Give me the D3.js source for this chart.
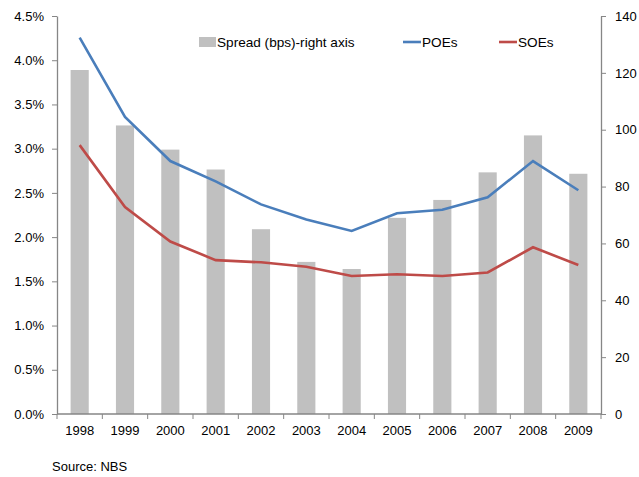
<!DOCTYPE html>
<html>
<head>
<meta charset="utf-8">
<script src="https://cdn.jsdelivr.net/npm/d3@7"></script>
<style>
  body { margin: 0; background: #fff; }
  svg { font-family: 'Liberation Sans', Arial, sans-serif; }
  .axis path, .axis line { stroke: #868686; }
  .axis text { fill: #000; font-size: 13px; font-family: 'Liberation Sans', Arial, sans-serif; }
</style>
</head>
<body>
<div class="chart"></div>
<script>
// DATA ------------------------------------
const years = ['1998', '1999', '2000', '2001', '2002', '2003', '2004', '2005', '2006', '2007', '2008', '2009'];
const spread = [121, 101.5, 93, 86, 65, 53.5, 51, 69, 75.3, 85, 98, 84.5];
const poes = [4.255, 3.36, 2.86, 2.63, 2.37, 2.2, 2.07, 2.27, 2.31, 2.45, 2.86, 2.53];
const soes = [3.04, 2.34, 1.95, 1.74, 1.715, 1.665, 1.56, 1.58, 1.56, 1.6, 1.885, 1.685];
const leftTicks = [0, 0.5, 1, 1.5, 2, 2.5, 3, 3.5, 4, 4.5];
const rightTicks = [0, 20, 40, 60, 80, 100, 120, 140];

// CHART INIT ------------------------------
const margin = { top: 16, right: 38, bottom: 63, left: 57 };
const width = 639 - margin.left - margin.right;
const height = 477 - margin.top - margin.bottom;

const svg = d3
  .select('.chart')
  .append('svg')
  .attr('width', width + margin.left + margin.right)
  .attr('height', height + margin.top + margin.bottom);

const group = svg
  .append('g')
  .attr('transform', 'translate(' + margin.left + ',' + margin.top + ')');

const xScale = d3.scaleBand().domain(years).range([0, width]);
const yLeft = d3.scaleLinear().domain([0, 4.5]).range([height, 0]);
const yRight = d3.scaleLinear().domain([0, 140]).range([height, 0]);

// bars (right axis)
group
  .selectAll('rect')
  .data(years)
  .enter()
  .append('rect')
  .attr('x', (d) => xScale(d) + xScale.bandwidth() * 0.3)
  .attr('y', (d, i) => yRight(spread[i]))
  .attr('width', xScale.bandwidth() * 0.4)
  .attr('height', (d, i) => height - yRight(spread[i]))
  .attr('fill', '#c0c0c0');

// lines (left axis)
const line = d3
  .line()
  .x((d, i) => xScale(years[i]) + xScale.bandwidth() / 2)
  .y((d) => yLeft(d));

group.append('path').datum(poes).attr('d', line)
  .attr('fill', 'none').attr('stroke', '#4a7ebb').attr('stroke-width', 2.6);
group.append('path').datum(soes).attr('d', line)
  .attr('fill', 'none').attr('stroke', '#be4b48').attr('stroke-width', 2.6);

// axes
const xAxis = d3.axisBottom(xScale).tickSize(0).tickPadding(12);
const xg = group.append('g').attr('class', 'x-axis axis')
  .attr('transform', 'translate(0,' + height + ')').call(xAxis);
xg.select('.domain').attr('d', 'M0,0H' + width);
// boundary tick marks between categories
xg.selectAll('.bound')
  .data(years.concat(['end']))
  .enter()
  .append('line')
  .attr('class', 'bound')
  .attr('x1', (d, i) => i * xScale.step())
  .attr('x2', (d, i) => i * xScale.step())
  .attr('y1', 0)
  .attr('y2', 5);

const leftAxis = d3.axisLeft(yLeft).tickValues(leftTicks)
  .tickFormat((d) => d.toFixed(1) + '%').tickSizeInner(5).tickSizeOuter(0).tickPadding(8);
group.append('g').attr('class', 'y-axis axis').call(leftAxis);

const rightAxis = d3.axisRight(yRight).tickValues(rightTicks)
  .tickSizeInner(5).tickSizeOuter(0).tickPadding(9);
group.append('g').attr('class', 'y-axis axis')
  .attr('transform', 'translate(' + width + ',0)').call(rightAxis);

group.selectAll('.axis .domain').attr('stroke-width', 1.3);

// legend
const legend = svg.append('g').attr('font-size', 13.6);
legend.append('rect').attr('x', 199).attr('y', 37).attr('width', 17).attr('height', 10).attr('fill', '#c0c0c0');
legend.append('text').attr('x', 217).attr('y', 47).text('Spread (bps)-right axis');
legend.append('line').attr('x1', 403).attr('x2', 421).attr('y1', 42).attr('y2', 42)
  .attr('stroke', '#4a7ebb').attr('stroke-width', 2.6);
legend.append('text').attr('x', 422).attr('y', 47).text('POEs');
legend.append('line').attr('x1', 499).attr('x2', 517).attr('y1', 42).attr('y2', 42)
  .attr('stroke', '#be4b48').attr('stroke-width', 2.6);
legend.append('text').attr('x', 518).attr('y', 47).text('SOEs');

// source
svg.append('text').attr('x', 52).attr('y', 471).attr('font-size', 13).text('Source: NBS');
</script>
</body>
</html>
